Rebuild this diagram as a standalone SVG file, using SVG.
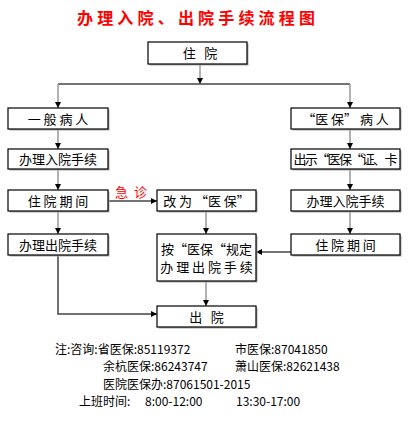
<svg xmlns="http://www.w3.org/2000/svg" width="410" height="435" viewBox="0 0 410 435" xml:space="preserve">
<style>
text{white-space:pre}
.box{fill:#fff;stroke:#000;stroke-width:1.2}
.sh{fill:#aaa}
.t{font-family:"Noto Sans CJK SC","Liberation Sans",sans-serif;font-size:13px;fill:#000;text-anchor:middle}
.n{font-family:"Noto Sans CJK SC","Liberation Sans",sans-serif;font-size:12px;fill:#000}
.g{stroke:#999;stroke-width:1.5;fill:none}
.d{stroke:#444;stroke-width:1.5;fill:none}
</style>
<defs>
<marker id="ah" markerUnits="userSpaceOnUse" markerWidth="6" markerHeight="6" refX="6" refY="3" orient="auto">
<path d="M0,0 L6,3 L0,6 Z" fill="#000"/>
</marker>
</defs>
<rect width="410" height="435" fill="#fff"/>
<text x="77" y="24" font-family="Noto Sans CJK SC,sans-serif" font-size="16" font-weight="bold" fill="#ff0000" textLength="238" lengthAdjust="spacing">办理入院、出院手续流程图</text>

<g id="connectors">
<line class="g" x1="200" y1="64" x2="200" y2="84" marker-end="url(#ah)"/>
<line class="d" x1="58" y1="84" x2="350" y2="84"/>
<line class="g" x1="58" y1="84" x2="58" y2="108" marker-end="url(#ah)"/>
<line class="g" x1="350" y1="84" x2="350" y2="108" marker-end="url(#ah)"/>
<line class="g" x1="58" y1="129" x2="58" y2="149" marker-end="url(#ah)"/>
<line class="g" x1="58" y1="169" x2="58" y2="190" marker-end="url(#ah)"/>
<line class="g" x1="58" y1="211" x2="58" y2="234" marker-end="url(#ah)"/>
<line class="g" x1="350" y1="129" x2="350" y2="149" marker-end="url(#ah)"/>
<line class="g" x1="350" y1="169" x2="350" y2="190" marker-end="url(#ah)"/>
<line class="g" x1="350" y1="211" x2="350" y2="234" marker-end="url(#ah)"/>
<line class="d" x1="108" y1="201" x2="157" y2="201" marker-end="url(#ah)"/>
<line class="g" x1="206" y1="211" x2="206" y2="234" marker-end="url(#ah)"/>
<line class="d" x1="291" y1="252" x2="256" y2="252" marker-end="url(#ah)"/>
<line class="g" x1="206" y1="281" x2="206" y2="306" marker-end="url(#ah)"/>
<polyline class="d" points="58,255 58,314 157,314" marker-end="url(#ah)"/>
<text x="131" y="197" font-family="Noto Sans CJK SC,sans-serif" font-size="13" fill="#ff0000" text-anchor="middle">急  诊</text>
</g>

<g id="n_zhuyuan"><rect class="sh" x="149.5" y="43.5" width="99" height="22"/><rect class="box" x="148" y="42" width="99" height="22"/><text class="t" x="200" y="58">住   院</text></g>

<g id="n_yiban"><rect class="sh" x="9.5" y="109.5" width="100" height="21"/><rect class="box" x="8" y="108" width="100" height="21"/><text class="t" x="58" y="123.5">一 般 病 人</text></g>
<g id="n_ruyuan_l"><rect class="sh" x="9.5" y="150.5" width="100" height="20"/><rect class="box" x="8" y="149" width="100" height="20"/><text class="t" x="58" y="164">办理入院手续</text></g>
<g id="n_qijian_l"><rect class="sh" x="9.5" y="191.5" width="100" height="21"/><rect class="box" x="8" y="190" width="100" height="21"/><text class="t" x="58" y="205.5">住 院 期 间</text></g>
<g id="n_chuyuan_l"><rect class="sh" x="9.5" y="235.5" width="100" height="21"/><rect class="box" x="8" y="234" width="100" height="21"/><text class="t" x="58" y="249.5">办理出院手续</text></g>

<g id="n_gaiwei"><rect class="sh" x="158.5" y="191.5" width="99" height="21"/><rect class="box" x="157" y="190" width="99" height="21"/><text class="t" x="206.5" y="205.5">改 为 “医 保”</text></g>
<g id="n_anyibao"><rect class="sh" x="158.5" y="235.5" width="99" height="47"/><rect class="box" x="157" y="234" width="99" height="47"/><text class="t" x="206.5" y="254">按“医保“规定</text><text class="t" x="206.5" y="272">办 理 出 院 手 续</text></g>
<g id="n_chuyuan"><rect class="sh" x="158.5" y="307.5" width="99" height="21"/><rect class="box" x="157" y="306" width="99" height="21"/><text class="t" x="206.5" y="321.5">出   院</text></g>

<g id="n_yibao"><rect class="sh" x="292.5" y="109.5" width="109" height="21"/><rect class="box" x="291" y="108" width="109" height="21"/><text class="t" x="345.5" y="123.5">“医 保” 病 人</text></g>
<g id="n_chushi"><rect class="sh" x="292.5" y="150.5" width="109" height="20"/><rect class="box" x="291" y="149" width="109" height="20"/><text class="t" x="345.5" y="164" textLength="104">出示“医保“证、卡</text></g>
<g id="n_ruyuan_r"><rect class="sh" x="292.5" y="191.5" width="109" height="21"/><rect class="box" x="291" y="190" width="109" height="21"/><text class="t" x="345.5" y="205.5">办理入院手续</text></g>
<g id="n_qijian_r"><rect class="sh" x="292.5" y="235.5" width="109" height="21"/><rect class="box" x="291" y="234" width="109" height="21"/><text class="t" x="345.5" y="249.5">住 院 期 间</text></g>

<g id="notes">
<text class="n" x="55" y="354">注:咨询:省医保:85119372</text>
<text class="n" x="235" y="354">市医保:87041850</text>
<text class="n" x="103" y="371">余杭医保:86243747</text>
<text class="n" x="235" y="371">萧山医保:82621438</text>
<text class="n" x="103" y="389">医院医保办:87061501-2015</text>
<text class="n" x="79" y="406">上班时间:</text>
<text class="n" x="145" y="406">8:00-12:00</text>
<text class="n" x="236" y="406">13:30-17:00</text>
</g>
</svg>
